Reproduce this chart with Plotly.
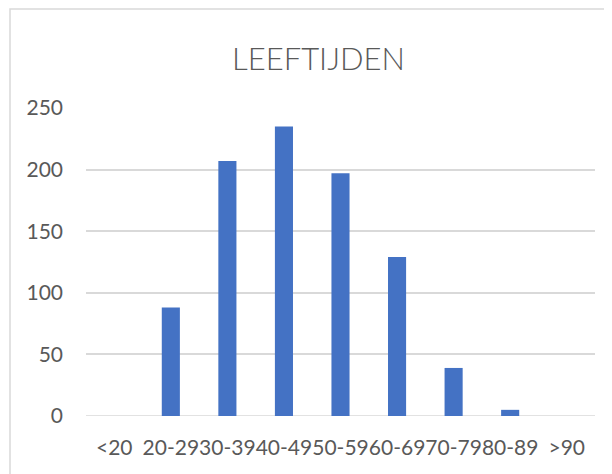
import plotly.graph_objects as go

categories = ["<20", "20-29", "30-39", "40-49", "50-59", "60-69", "70-79", "80-89", ">90"]
values = [0, 88, 207, 235, 197, 129, 39, 5, 0]
y_ticks = [0, 50, 100, 150, 200, 250]
title_text = "LEEFTIJDEN"

# page body has an 8px margin, so the figure is drawn 8px smaller and shifted
OFF = 8
W, H = 612 - OFF, 474 - OFF
L, R, T, B = 86 - OFF, 17, 108 - OFF, 58
pw, ph = W - L - R, H - T - B

fig = go.Figure(go.Bar(x=categories, y=values, marker=dict(color="#4472C4", line=dict(width=0))))

def px_x(p):
    return (p - OFF - L) / pw

def px_y(p):
    return (H + OFF - B - p) / ph

fig.update_layout(
    width=W, height=H,
    margin=dict(l=L, r=R, t=T, b=B),
    paper_bgcolor="white", plot_bgcolor="white",
    bargap=0.68,
    showlegend=False,
    font=dict(family="Lato", color="#595959", size=21),
    xaxis=dict(type="category", tickangle=0, showgrid=False, zeroline=False,
               showline=False, ticks="", ticklabelstandoff=17,
               tickfont=dict(size=21, color="#595959")),
    yaxis=dict(range=[0, 250], tickvals=y_ticks, showgrid=True, gridcolor="#D9D9D9",
               gridwidth=1.5, zeroline=False, showline=False, ticks="",
               ticklabelstandoff=22, tickfont=dict(size=21, color="#595959")),
    annotations=[dict(text=title_text, x=px_x(318), y=px_y(58), xref="paper", yref="paper",
                      xanchor="center", yanchor="middle", showarrow=False,
                      font=dict(family="Lato", size=31, color="#595959", weight=300))],
    shapes=[dict(type="rect", xref="paper", yref="paper",
                 x0=px_x(10), x1=px_x(640), y0=px_y(490), y1=px_y(9),
                 line=dict(color="#D9D9D9", width=1.5), fillcolor="rgba(0,0,0,0)", layer="below"),
            dict(type="line", xref="paper", yref="y", x0=0, x1=1, y0=0, y1=0,
                 line=dict(color="#D9D9D9", width=1.5), layer="below")],
)

fig.write_html("out.html")
